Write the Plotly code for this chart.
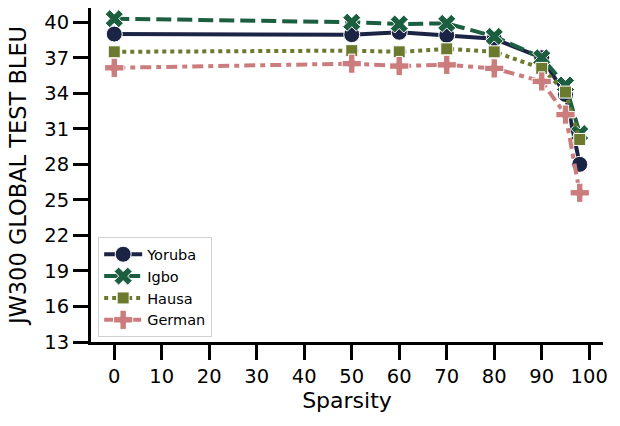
import plotly.graph_objects as go

# ---------------------------------------------------------------------------
# Data
# ---------------------------------------------------------------------------
SPARSITY = [0, 50, 60, 70, 80, 90, 95, 98]

YORUBA = [39.0, 38.95, 39.15, 38.9, 38.6, 37.0, 33.9, 28.0]
IGBO = [40.3, 40.0, 39.85, 39.9, 38.8, 37.0, 34.7, 30.6]
HAUSA = [37.5, 37.6, 37.5, 37.75, 37.5, 36.1, 34.1, 30.1]
GERMAN = [36.15, 36.5, 36.3, 36.4, 36.1, 35.0, 32.2, 25.6]

Y_TICKS = [13, 16, 19, 22, 25, 28, 31, 34, 37, 40]
X_TICKS = [0, 10, 20, 30, 40, 50, 60, 70, 80, 90, 100]

SERIES = [
    ("Yoruba", YORUBA, "#1b2444", "solid", "circle", 16),
    ("Igbo", IGBO, "#1c5e40", "15px,6px", "x", 16),
    ("Hausa", HAUSA, "#6b7a2f", "4px,4px", "square", 12),
    ("German", GERMAN, "#cb7c7c", "11px,5px,5px,5px", "cross", 16),
]

fig = go.Figure()
for name, values, color, dash, symbol, size in SERIES:
    fig.add_trace(go.Scatter(
        x=SPARSITY,
        y=values,
        name=name,
        mode="lines+markers",
        line=dict(color=color, width=4, dash=dash),
        marker=dict(symbol=symbol, size=size, color=color,
                    line=dict(color="white", width=1)),
    ))

axis_common = dict(
    showline=True,
    linecolor="black",
    linewidth=3,
    ticks="outside",
    ticklen=15,
    tickwidth=3,
    tickcolor="black",
    showgrid=False,
    zeroline=False,
    automargin=False,
    tickfont=dict(size=19.5, color="black"),
)

fig.update_layout(
    width=620,
    height=426,
    paper_bgcolor="white",
    plot_bgcolor="white",
    font=dict(family="DejaVu Sans", color="black"),
    margin=dict(l=91, r=17, t=8, b=84),
    xaxis=dict(
        axis_common,
        range=[-4.9, 102.9],
        tickvals=X_TICKS,
        title=dict(text="Sparsity", font=dict(size=22), standoff=6),
    ),
    yaxis=dict(
        axis_common,
        range=[13, 41.2],
        tickvals=Y_TICKS,
        title=dict(text="JW300 GLOBAL TEST BLEU", font=dict(size=22.5), standoff=12),
    ),
    legend=dict(
        x=0.014, y=0.014,
        xanchor="left", yanchor="bottom",
        bgcolor="rgba(255,255,255,0.85)",
        bordercolor="#d0d0d0",
        borderwidth=1,
        font=dict(size=14.5),
        tracegroupgap=0,
        itemsizing="trace",
        itemwidth=38,
    ),
    showlegend=True,
)

# the page body has a default 8px margin; drop it so the chart sits at 0,0
fig.write_html(
    "out.html",
    config={"displayModeBar": False},
    post_script="document.body.style.margin='0';",
)
